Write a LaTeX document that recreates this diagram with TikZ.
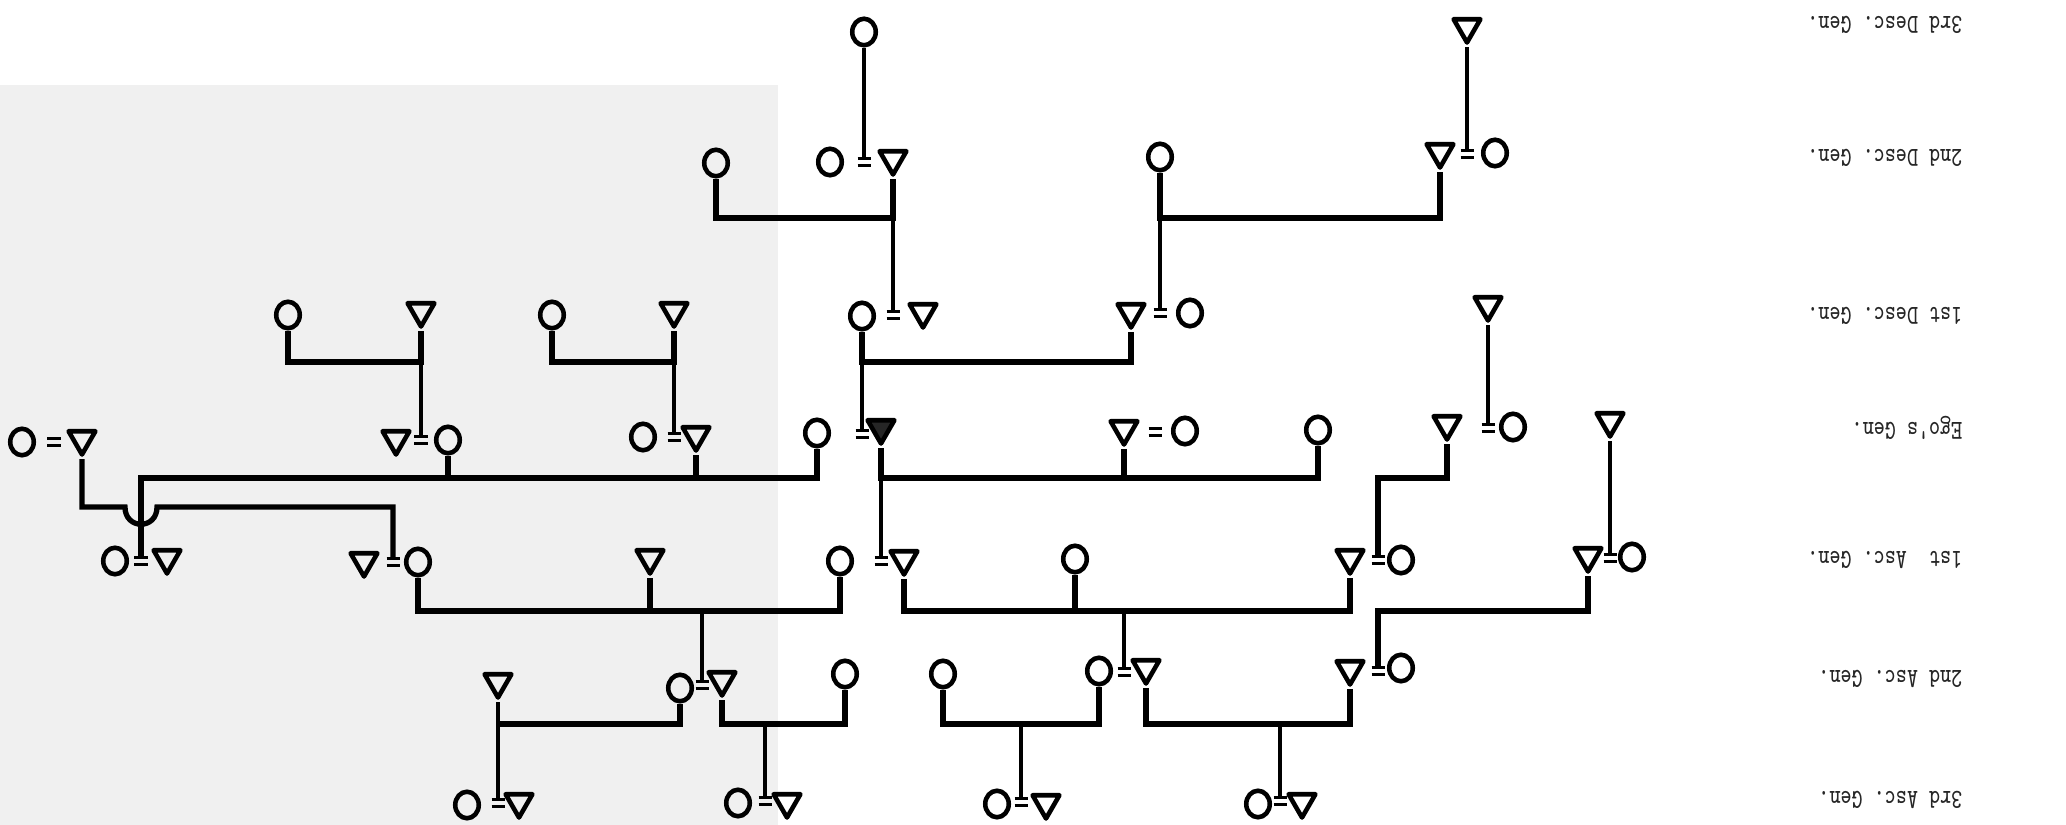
\documentclass[tikz,border=0pt]{standalone}
\usepackage{fontspec}
\usetikzlibrary{shapes.geometric}
\newcommand\kinEq{\vbox{\hrule width 0.13cm height 0.9pt\vskip 0.035cm\hrule width 0.13cm height 0.9pt}}
\newcommand\genlab[1]{\frenchspacing\scalebox{0.76}[1]{#1}}
\begin{document}
\begin{tikzpicture}[x=0.01cm,y=-0.01cm,
  fem/.style={draw, ellipse, line width=1.3pt, inner sep=0pt, minimum width=0.235cm, minimum height=0.265cm},
  mal/.style={draw, regular polygon, regular polygon sides=3, shape border rotate=180, line width=1.3pt, line join=round, inner sep=0pt, minimum size=0.31cm},
  ego/.style={mal, fill=black!85},
  eq/.style={inner sep=0pt, outer sep=0pt},
  link/.style={line width=1.1pt},
  bar/.style={line width=1.5pt},
  lab/.style={rotate=180, anchor=west, inner sep=0pt, text=black!85, font=\ttfamily\addfontfeatures{FakeBold=0.6}\fontsize{7.8}{9}\selectfont}
]
\useasboundingbox (0,0) rectangle (2066,825);
\fill[black!6] (0,85) rectangle (778,825);

% ---- 3rd Desc. Gen.
\node[fem] (d3f) at (864,32) {};
\node[mal] (d3m) at (1467,27) {};
% ---- 2nd Desc. Gen.
\node[fem] (d2a) at (716,163) {};
\node[fem] (d2bf) at (830,162) {};
\node[eq] (d2be) at (864,162) {\kinEq};
\node[mal] (d2bm) at (893,159) {};
\node[fem] (d2c) at (1160,157) {};
\node[mal] (d2dm) at (1440,152) {};
\node[eq] (d2de) at (1467,154) {\kinEq};
\node[fem] (d2df) at (1495,153) {};
% ---- 1st Desc. Gen.
\node[fem] (d1a) at (288,315) {};
\node[mal] (d1b) at (421,311) {};
\node[fem] (d1c) at (552,315) {};
\node[mal] (d1d) at (674,311) {};
\node[fem] (d1ef) at (862,316) {};
\node[eq] (d1ee) at (893,315) {\kinEq};
\node[mal] (d1em) at (923,312) {};
\node[mal] (d1fm) at (1131,312) {};
\node[eq] (d1fe) at (1160,313) {\kinEq};
\node[fem] (d1ff) at (1190,313) {};
\node[mal] (d1g) at (1488,305) {};
% ---- Ego's Gen.
\node[fem] (e1f) at (22,442) {};
\node[eq] (e1e) at (54,442) {\kinEq};
\node[mal] (e1m) at (82,439) {};
\node[mal] (e2m) at (396,439) {};
\node[eq] (e2e) at (421,440) {\kinEq};
\node[fem] (e2f) at (448,440) {};
\node[fem] (e3f) at (643,437) {};
\node[eq] (e3e) at (674,437) {\kinEq};
\node[mal] (e3m) at (696,435) {};
\node[fem] (e4f) at (817,433) {};
\node[eq] (e4e) at (862,434) {\kinEq};
\node[ego] (e4m) at (881,428) {};
\node[mal] (e5m) at (1124,429) {};
\node[eq] (e5e) at (1155,432) {\kinEq};
\node[fem] (e5f) at (1185,431) {};
\node[fem] (e6f) at (1318,430) {};
\node[mal] (e7m) at (1447,424) {};
\node[eq] (e7e) at (1488,428) {\kinEq};
\node[fem] (e7f) at (1513,427) {};
\node[mal] (e8m) at (1610,421) {};
% ---- 1st Asc. Gen.
\node[fem] (a1f) at (115,561) {};
\node[eq] (a1e) at (141,561) {\kinEq};
\node[mal] (a1m) at (167,558) {};
\node[mal] (a2m) at (364,561) {};
\node[eq] (a2e) at (393,562) {\kinEq};
\node[fem] (a2f) at (418,562) {};
\node[mal] (a3m) at (650,558) {};
\node[fem] (a4f) at (840,561) {};
\node[eq] (a4e) at (881,561) {\kinEq};
\node[mal] (a4m) at (904,559) {};
\node[fem] (a5f) at (1075,559) {};
\node[mal] (a6m) at (1350,558) {};
\node[eq] (a6e) at (1378,560) {\kinEq};
\node[fem] (a6f) at (1401,560) {};
\node[mal] (a7m) at (1588,556) {};
\node[eq] (a7e) at (1610,558) {\kinEq};
\node[fem] (a7f) at (1632,557) {};
% ---- 2nd Asc. Gen.
\node[mal] (b1m) at (498,682) {};
\node[fem] (b2f) at (680,688) {};
\node[eq] (b2e) at (702,685) {\kinEq};
\node[mal] (b2m) at (722,680) {};
\node[fem] (b3f) at (845,674) {};
\node[fem] (b4f) at (943,674) {};
\node[fem] (b5f) at (1099,671) {};
\node[eq] (b5e) at (1124,672) {\kinEq};
\node[mal] (b5m) at (1146,668) {};
\node[mal] (b6m) at (1350,669) {};
\node[eq] (b6e) at (1378,671) {\kinEq};
\node[fem] (b6f) at (1401,668) {};
% ---- 3rd Asc. Gen.
\node[fem] (c1f) at (467,805) {};
\node[eq] (c1e) at (498,803) {\kinEq};
\node[mal] (c1m) at (519,802) {};
\node[fem] (c2f) at (738,803) {};
\node[eq] (c2e) at (765,801) {\kinEq};
\node[mal] (c2m) at (787,802) {};
\node[fem] (c3f) at (997,804) {};
\node[eq] (c3e) at (1021,802) {\kinEq};
\node[mal] (c3m) at (1046,803) {};
\node[fem] (c4f) at (1258,804) {};
\node[eq] (c4e) at (1280,801) {\kinEq};
\node[mal] (c4m) at (1302,802) {};

% ---- bar levels
\coordinate (r2d) at (0,218);
\coordinate (r1d) at (0,362);
\coordinate (rEa) at (0,478);
\coordinate (rEb) at (0,507);
\coordinate (r1a) at (0,611);
\coordinate (r2a) at (0,724);

% ---- connectors
\draw[link] (d3f.south) -- (d2be.north);
\draw[link] (d3m.south) -- (d2de.north);
\draw[bar] (d2a.south) |- (d2bm.south |- r2d) -- (d2bm.south);
\draw[link] (d2bm.south) -- (d1ee.north);
\draw[bar] (d2c.south) |- (d2dm.south |- r2d) -- (d2dm.south);
\draw[link] (d2c.south) -- (d1fe.north);

\draw[bar] (d1a.south) |- (d1b.south |- r1d) -- (d1b.south);
\draw[bar] (d1c.south) |- (d1d.south |- r1d) -- (d1d.south);
\draw[bar] (d1ef.south) |- (d1fm.south |- r1d) -- (d1fm.south);
\draw[link] (d1b.south) -- (e2e.north);
\draw[link] (d1d.south) -- (e3e.north);
\draw[link] (d1ef.south) -- (e4e.north);
\draw[link] (d1g.south) -- (e7e.north);

\draw[bar] (a1e.north) -- (a1e.north |- rEa) -| (e4f.south);
\draw[bar] (e2f.south) -- (e2f.south |- rEa);
\draw[bar] (e3m.south) -- (e3m.south |- rEa);
\draw[bar] (e1m.south) -- (e1m.south |- rEb)
  -- ([xshift=-0.16cm]a1e.north |- rEb)
  .. controls ([xshift=-0.16cm,yshift=-0.23cm]a1e.north |- rEb) and ([xshift=0.16cm,yshift=-0.23cm]a1e.north |- rEb) ..
  ([xshift=0.16cm]a1e.north |- rEb) -- (a2e.north |- rEb) -- (a2e.north);
\draw[bar] (e4m.south) |- (e6f.south |- rEa) -- (e6f.south);
\draw[bar] (e5m.south) -- (e5m.south |- rEa);
\draw[link] (e4m.south) -- (a4e.north);
\draw[bar] (e7m.south) |- (a6e.north |- rEa) -- (a6e.north);
\draw[link] (e8m.south) -- (a7e.north);

\draw[bar] (a2f.south) |- (a4f.south |- r1a) -- (a4f.south);
\draw[bar] (a3m.south) -- (a3m.south |- r1a);
\draw[link] (b2e.north) -- (b2e.north |- r1a);
\draw[bar] (a4m.south) |- (a6m.south |- r1a) -- (a6m.south);
\draw[bar] (a5f.south) -- (a5f.south |- r1a);
\draw[link] (b5e.north) -- (b5e.north |- r1a);
\draw[bar] (a7m.south) |- (b6e.north |- r1a) -- (b6e.north);

\draw[link] (b1m.south) -- (c1e.north);
\draw[bar] (b2f.south) |- (b1m.south |- r2a);
\draw[bar] (b2m.south) |- (b3f.south |- r2a) -- (b3f.south);
\draw[link] (c2e.north) -- (c2e.north |- r2a);
\draw[bar] (b4f.south) |- (b5f.south |- r2a) -- (b5f.south);
\draw[link] (c3e.north) -- (c3e.north |- r2a);
\draw[bar] (b5m.south) |- (b6m.south |- r2a) -- (b6m.south);
\draw[link] (c4e.north) -- (c4e.north |- r2a);

% ---- generation labels (printed upside down)
\node[lab] (l3d) at (1963,25) {\genlab{3rd Desc. Gen.}};
\node[lab] (l2d) at (1963,158) {\genlab{2nd Desc. Gen.}};
\node[lab] (l1d) at (1963,316) {\genlab{1st Desc. Gen.}};
\node[lab] (lego) at (1963,428) {\genlab{Ego's Gen.}};
\node[lab] (l1a) at (1963,560) {\genlab{1st\ \ Asc. Gen.}};
\node[lab] (l2a) at (1963,679) {\genlab{2nd Asc. Gen.}};
\node[lab] (l3a) at (1963,800) {\genlab{3rd Asc. Gen.}};
\end{tikzpicture}
\end{document}
